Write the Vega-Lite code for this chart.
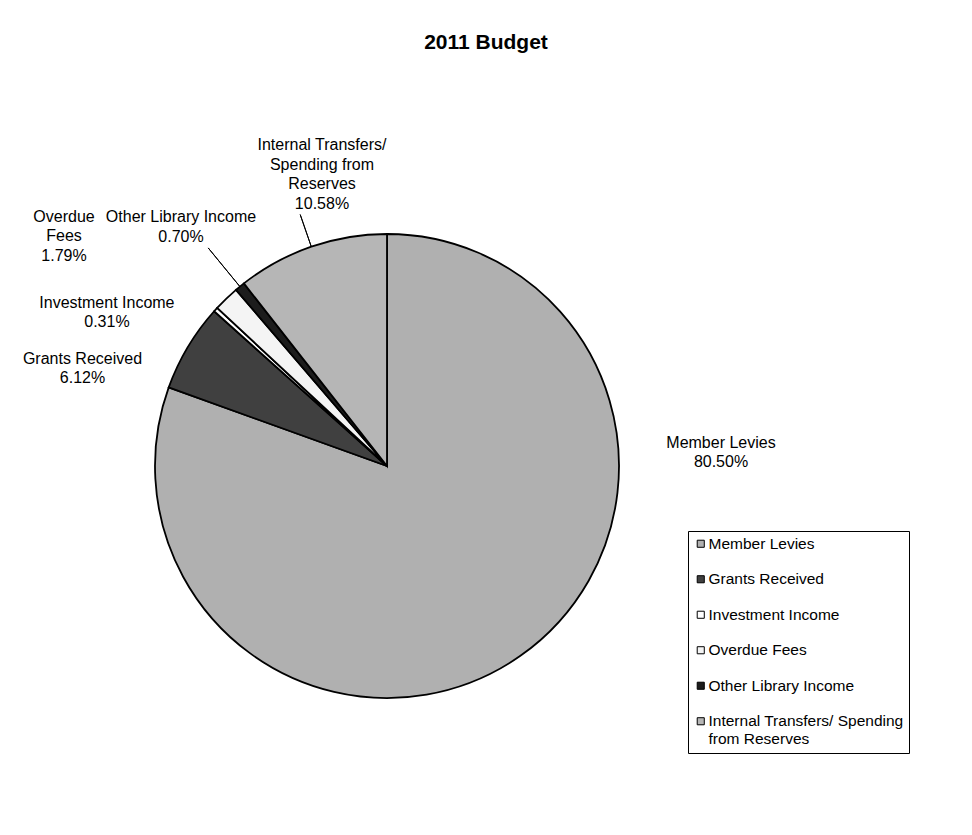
{
  "$schema": "https://vega.github.io/schema/vega-lite/v6.json",
  "width": 774,
  "height": 738,
  "autosize": {"type": "none"},
  "padding": {"left": 0, "top": 97, "right": 198, "bottom": 0},
  "background": "white",
  "config": {"view": {"stroke": null}, "text": {"font": "Liberation Sans"}},
  "title": {
    "text": "2011 Budget",
    "font": "Liberation Sans",
    "fontSize": 21,
    "fontWeight": "bold",
    "color": "black",
    "anchor": "middle",
    "frame": "group",
    "dx": 99,
    "offset": 44
  },
  "data": {
    "values": [
      {"category": "Member Levies", "pct": 80.50, "order": 1, "label": "Member Levies\n80.50%"},
      {"category": "Grants Received", "pct": 6.12, "order": 2, "label": "Grants Received\n6.12%"},
      {"category": "Investment Income", "pct": 0.31, "order": 3, "label": "Investment Income\n0.31%"},
      {"category": "Overdue Fees", "pct": 1.79, "order": 4, "label": "Overdue\nFees\n1.79%"},
      {"category": "Other Library Income", "pct": 0.70, "order": 5, "label": "Other Library Income\n0.70%"},
      {"category": "Internal Transfers/ Spending from Reserves", "pct": 10.58, "order": 6, "label": "Internal Transfers/\nSpending from\nReserves\n10.58%"}
    ]
  },
  "transform": [
    {"stack": "pct", "groupby": [], "sort": [{"field": "order", "order": "ascending"}], "as": ["start", "end"]}
  ],
  "layer": [
    {
      "mark": {"type": "arc", "outerRadius": 232, "stroke": "black", "strokeWidth": 1.8},
      "encoding": {
        "theta": {"field": "start", "type": "quantitative", "stack": null, "scale": {"domain": [0, 100]}},
        "theta2": {"field": "end"},
        "color": {
          "field": "category",
          "type": "nominal",
          "scale": {
            "domain": ["Member Levies", "Grants Received", "Investment Income", "Overdue Fees", "Other Library Income", "Internal Transfers/ Spending from Reserves"],
            "range": ["#b0b0b0", "#404040", "#ffffff", "#f4f4f4", "#1c1c1c", "#b6b6b6"]
          },
          "legend": {
            "title": null,
            "orient": "none",
            "legendX": 688,
            "legendY": 434,
            "direction": "vertical",
            "symbolType": "square",
            "symbolSize": 50,
            "symbolStrokeColor": "black",
            "symbolStrokeWidth": 1,
            "labelFont": "Liberation Sans",
            "labelFontSize": 15.5,
            "labelColor": "black",
            "labelLimit": 260,
            "labelOffset": 0,
            "rowPadding": 18.5,
            "padding": 5,
            "strokeColor": "black",
            "fillColor": "white",
            "labelExpr": "datum.label == 'Internal Transfers/ Spending from Reserves' ? ['Internal Transfers/ Spending', 'from Reserves'] : datum.label"
          }
        }
      }
    },
    {
      "transform": [{"filter": {"field": "category", "equal": "Internal Transfers/ Spending from Reserves"}}],
      "mark": {"type": "arc", "outerRadius": 266, "innerRadius": 232, "padAngle": 1.5, "fillOpacity": 0, "stroke": "black", "strokeWidth": 1},
      "encoding": {
        "theta": {"field": "start", "type": "quantitative", "stack": null},
        "theta2": {"field": "end"}
      }
    },
    {
      "transform": [{"filter": {"field": "category", "equal": "Other Library Income"}}],
      "mark": {"type": "arc", "outerRadius": 282, "innerRadius": 232, "padAngle": 1.5, "fillOpacity": 0, "stroke": "black", "strokeWidth": 1},
      "encoding": {
        "theta": {"field": "start", "type": "quantitative", "stack": null},
        "theta2": {"field": "end"}
      }
    },
    {
      "transform": [{"filter": {"field": "category", "equal": "Member Levies"}}],
      "mark": {"type": "text", "radius": 250, "dx": 334, "dy": 226.75, "fontSize": 16, "lineHeight": 19.5, "lineBreak": "\n", "align": "center", "baseline": "middle", "color": "black", "font": "Liberation Sans"},
      "encoding": {
        "theta": {"field": "start", "type": "quantitative", "stack": null},
        "text": {"field": "label"}
      }
    },
    {
      "transform": [{"filter": {"field": "category", "equal": "Grants Received"}}],
      "mark": {"type": "text", "radius": 250, "dx": -69.3, "dy": -22.55, "fontSize": 16, "lineHeight": 19.5, "lineBreak": "\n", "align": "center", "baseline": "middle", "color": "black", "font": "Liberation Sans"},
      "encoding": {
        "theta": {"field": "start", "type": "quantitative", "stack": null},
        "text": {"field": "label"}
      }
    },
    {
      "transform": [{"filter": {"field": "category", "equal": "Investment Income"}}],
      "mark": {"type": "text", "radius": 250, "dx": -93.8, "dy": 3.65, "fontSize": 16, "lineHeight": 19.5, "lineBreak": "\n", "align": "center", "baseline": "middle", "color": "black", "font": "Liberation Sans"},
      "encoding": {
        "theta": {"field": "start", "type": "quantitative", "stack": null},
        "text": {"field": "label"}
      }
    },
    {
      "transform": [{"filter": {"field": "category", "equal": "Overdue Fees"}}],
      "mark": {"type": "text", "radius": 250, "dx": -140, "dy": -78.7, "fontSize": 16, "lineHeight": 19.5, "lineBreak": "\n", "align": "center", "baseline": "middle", "color": "black", "font": "Liberation Sans"},
      "encoding": {
        "theta": {"field": "start", "type": "quantitative", "stack": null},
        "text": {"field": "label"}
      }
    },
    {
      "transform": [{"filter": {"field": "category", "equal": "Other Library Income"}}],
      "mark": {"type": "text", "radius": 250, "dx": -43.3, "dy": -58.95, "fontSize": 16, "lineHeight": 19.5, "lineBreak": "\n", "align": "center", "baseline": "middle", "color": "black", "font": "Liberation Sans"},
      "encoding": {
        "theta": {"field": "start", "type": "quantitative", "stack": null},
        "text": {"field": "label"}
      }
    },
    {
      "transform": [{"filter": {"field": "category", "equal": "Internal Transfers/ Spending from Reserves"}}],
      "mark": {"type": "text", "radius": 250, "dx": 89.2, "dy": -124, "fontSize": 16, "lineHeight": 19.5, "lineBreak": "\n", "align": "center", "baseline": "middle", "color": "black", "font": "Liberation Sans"},
      "encoding": {
        "theta": {"field": "start", "type": "quantitative", "stack": null},
        "text": {"field": "label"}
      }
    }
  ]
}
